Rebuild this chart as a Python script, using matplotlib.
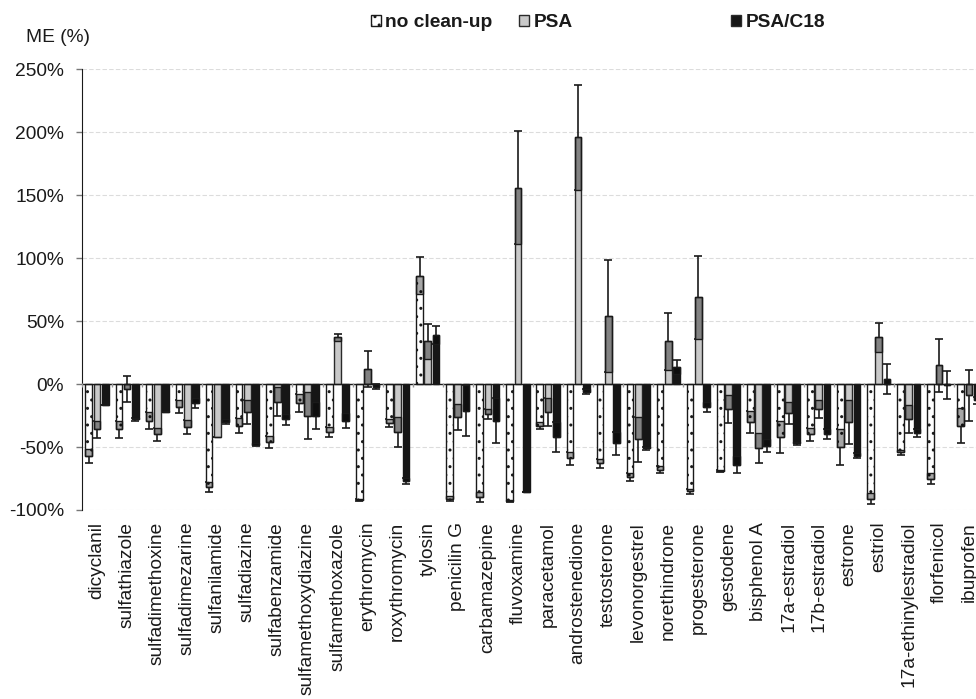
import numpy as np
import matplotlib
matplotlib.use('Agg')
import matplotlib.pyplot as plt
from matplotlib.patches import Patch
from matplotlib.ticker import FuncFormatter

plt.rcParams['font.family'] = ['Liberation Sans', 'DejaVu Sans']
plt.rcParams['hatch.linewidth'] = 1.0

#compounds on the x axis
compounds = ['dicyclanil', 'sulfathiazole', 'sulfadimethoxine', 'sulfadimezarine', 'sulfanilamide',
             'sulfadiazine', 'sulfabenzamide', 'sulfamethoxydiazine', 'sulfamethoxazole', 'erythromycin',
             'roxythromycin', 'tylosin', 'penicilin G', 'carbamazepine', 'fluvoxamine',
             'paracetamol', 'androstenedione', 'testosterone', 'levonorgestrel', 'norethindrone',
             'progesterone', 'gestodene', 'bisphenol A', '17a-estradiol', '17b-estradiol',
             'estrone', 'estriol', '17a-ethinylestradiol', 'florfenicol', 'ibuprofen']

#matrix effect (%) and error for every clean-up step
noCleanup = [-57, -36, -29, -18, -82, -33, -46, -15, -38, -92, -31, 86, -91, -90, -93,
             -33, -59, -63, -74, -68, -85, -69, -30, -42, -40, -50, -91, -54, -75, -33]
noCleanupErr = [5.5, 7, 7, 5, 4, 6, 5, 7.5, 4, 1, 3, 14.8, 2, 4, 1,
                3, 5, 3.5, 3, 3, 2, 1, 8.5, 13, 5, 14.5, 4.5, 2, 4, 14]

psa = [-36, -4, -40, -34, -42, -22, -14, -25, 37, 12, -38, 34, -26, -24, 156,
       -22, 196, 54, -44, 34, 69, -20, -51, -23, -20, -30, 37, -28, 15, -9]
psaErr = [7, 10.5, 5.5, 5.5, 0, 9.5, 11.5, 18.5, 3, 14, 12, 14, 10.5, 4, 45,
          11, 41.5, 44.5, 18, 22.5, 33, 11, 12, 8.5, 7, 17.5, 11.6, 11, 21, 20]

psaC18 = [-17, -28, -22, -15, -30, -48, -28, -25, -29, -2, -77, 39, -21, -29, -86,
          -42, -6, -47, -51, 13.5, -18, -64, -49, -47, -40, -57, 4, -39, -1, -13]
psaC18Err = [0, 1, 0.5, 4, 2, 1, 4.5, 11, 6, 2, 2.5, 7, 20, 18, 0,
             12, 2, 9, 1, 5.3, 4, 7, 5, 1, 4, 2, 11.8, 3, 11, 3]

seriesNames = ['no clean-up', 'PSA', 'PSA/C18']

textColor = '#1a1a1a'
styles = [dict(facecolor='white', edgecolor=textColor, hatch='..'),
          dict(facecolor='#c9c9c9', edgecolor='#2a2a2a', hatch=None),
          dict(facecolor='#161616', edgecolor='#161616', hatch=None)]

fig = plt.figure(figsize=(9.76, 6.99), dpi=100)
#axes run a little past the right edge like the original export
ax = fig.add_axes([82/976, 0.2704, 902/976, 0.6305])

x = np.arange(len(compounds))
width = 0.222
offsets = [-0.273, 0, 0.273]

for vals, errs, off, st in zip([noCleanup, psa, psaC18], [noCleanupErr, psaErr, psaC18Err], offsets, styles):
    vals = np.array(vals, dtype=float)
    errs = np.array(errs, dtype=float)
    pos = x + off
    #whiskers first, the bar hides the inner half
    ax.errorbar(pos, vals, yerr=errs, fmt='none', ecolor=textColor, elinewidth=1.2,
                capsize=2.8, capthick=1.2, zorder=2)
    ax.bar(pos, vals, width, facecolor=st['facecolor'], edgecolor=st['edgecolor'],
           hatch=st['hatch'], linewidth=1, zorder=3)
    #darker box for the part of the error bar that sits inside the bar
    inner = np.sign(vals) * np.minimum(errs, np.abs(vals))
    ax.bar(pos, inner, width, bottom=vals - inner, facecolor=(0, 0, 0, 0.35),
           edgecolor=textColor, linewidth=1, zorder=4)

ax.set_xlim(-0.5, len(compounds) - 0.5)
ax.set_ylim(-100, 250)
ax.set_yticks(np.arange(-100, 251, 50))
ax.yaxis.set_major_formatter(FuncFormatter(lambda v, p: '%d%%' % v))
ax.grid(axis='y', linestyle=(0, (4, 2)), color='#dcdcdc', linewidth=0.8, zorder=0)
ax.set_axisbelow(True)

ax.set_xticks(x)
ax.set_xticklabels(compounds, rotation=90, fontsize=13.8, color=textColor)
ax.tick_params(axis='x', length=0, pad=8.5)
ax.tick_params(axis='y', length=4, width=1, color='#777777', pad=9, labelsize=13.8, labelcolor=textColor)

for s in ['top', 'right', 'bottom']:
    ax.spines[s].set_visible(False)
ax.spines['left'].set_color(textColor)

#zero line with small separators between compounds
ax.axhline(0, color=textColor, linewidth=1, zorder=5)
ax.vlines(np.arange(len(compounds) + 1) - 0.5, -2.5, 0.8, color='#9a9a9a', linewidth=1, zorder=5)

fig.text(58/976, 1 - 37/699, 'ME (%)', ha='center', va='center', fontsize=13.8, color=textColor)

#legend entries spread across the top
legendX = [371, 519, 731]
for name, st, lx in zip(seriesNames, styles, legendX):
    h = Patch(facecolor=st['facecolor'], edgecolor=st['edgecolor'] if st['hatch'] else '#2a2a2a',
              hatch=st['hatch'], linewidth=1)
    fig.legend(handles=[h], labels=[name], loc='center left', bbox_to_anchor=(lx/976, 1 - 22.7/699),
               frameon=False, handlelength=0.5, handleheight=0.5, handletextpad=0.25,
               borderpad=0, borderaxespad=0, prop=dict(weight='bold', size=13.8), labelcolor=textColor)

fig.savefig('out.png', dpi=100)
